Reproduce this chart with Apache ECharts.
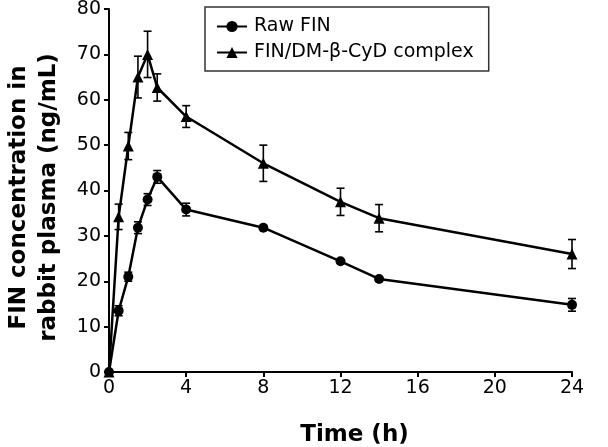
<!DOCTYPE html>
<html><head><meta charset="utf-8">
<script src="https://cdn.jsdelivr.net/npm/echarts@6/dist/echarts.min.js"></script>
<style>html,body{margin:0;padding:0;background:#fff}#c{width:608px;height:447px}</style>
</head><body><div id="c"></div>
<script>
const times = [0, 0.5, 1, 1.5, 2, 2.5, 4, 8, 12, 14, 24];
const rawMean = [0, 13.5, 21, 31.8, 38, 43, 35.8, 31.8, 24.4, 20.5, 14.8];
const rawSD = [0, 1.1, 1.0, 1.3, 1.3, 1.4, 1.4, 0.4, 0.3, 0.3, 1.4];
const cxMean = [0, 34.2, 49.8, 65, 70, 62.7, 56.3, 46, 37.5, 33.9, 26];
const cxSD = [0, 2.8, 3.0, 4.6, 5.1, 3.0, 2.4, 4.0, 3.0, 3.0, 3.2];
const xTicks = [0, 4, 8, 12, 16, 20, 24];
const yTicks = [0, 10, 20, 30, 40, 50, 60, 70, 80];
const seriesNames = ['Raw FIN', 'FIN/DM-β-CyD complex'];

const font = '"DejaVu Sans", "Liberation Sans", Arial, sans-serif';
const chart = echarts.init(document.getElementById('c'));

function errData(mean, sd) {
  return times.map((t, i) => [t, mean[i] - sd[i], mean[i] + sd[i]]).filter((d, i) => sd[i] > 0);
}
function errItem(params, api) {
  const x = api.value(0), lo = api.value(1), hi = api.value(2);
  const a = api.coord([x, lo]), b = api.coord([x, hi]);
  const w = 4;
  const st = { stroke: '#000', lineWidth: 1.6 };
  return { type: 'group', children: [
    { type: 'line', shape: { x1: a[0], y1: a[1], x2: b[0], y2: b[1] }, style: st },
    { type: 'line', shape: { x1: a[0] - w, y1: a[1], x2: a[0] + w, y2: a[1] }, style: st },
    { type: 'line', shape: { x1: b[0] - w, y1: b[1], x2: b[0] + w, y2: b[1] }, style: st }
  ]};
}

chart.setOption({
  animation: false,
  grid: { left: 109, right: 36, top: 9, bottom: 75, containLabel: false, outerBoundsMode: 'none' },
  legend: {
    left: 205, top: 7,
    orient: 'vertical',
    data: seriesNames,
    itemWidth: 30, itemHeight: 14, itemGap: 7,
    padding: [10, 15, 9, 11],
    borderColor: '#333', borderWidth: 1.5,
    textStyle: { fontFamily: font, fontSize: 19, color: '#000', padding: [0, 0, 0, 2] }
  },
  xAxis: {
    type: 'value', min: 0, max: 24, interval: 4,
    name: 'Time (h)', nameLocation: 'middle', nameGap: 52,
    nameTextStyle: { fontFamily: font, fontSize: 23, fontWeight: 'bold', color: '#000', padding: [0, 0, 0, 28] },
    axisLine: { lineStyle: { color: '#000', width: 2 } },
    axisTick: { inside: false, length: 5, lineStyle: { color: '#000', width: 2 } },
    axisLabel: { fontFamily: font, fontSize: 19, color: '#000', margin: 7,
      formatter: v => xTicks.includes(v) ? String(v) : '' },
    splitLine: { show: false }
  },
  yAxis: {
    type: 'value', min: 0, max: 80, interval: 10,
    name: 'FIN concentration in\nrabbit plasma (ng/mL)', nameLocation: 'middle', nameGap: 45,
    nameTextStyle: { fontFamily: font, fontSize: 23, fontWeight: 'bold', color: '#000', lineHeight: 30, padding: [0, 14, 0, 0] },
    axisLine: { lineStyle: { color: '#000', width: 2 } },
    axisTick: { inside: false, length: 5, lineStyle: { color: '#000', width: 2 } },
    axisLabel: { fontFamily: font, fontSize: 19, color: '#000', margin: 8,
      formatter: v => yTicks.includes(v) ? String(v) : '' },
    splitLine: { show: false }
  },
  series: [
    { name: seriesNames[0], type: 'line', data: times.map((t, i) => [t, rawMean[i]]),
      symbol: 'circle', symbolSize: 10, showAllSymbol: true,
      lineStyle: { color: '#000', width: 2.5 }, itemStyle: { color: '#000' }, z: 3 },
    { name: seriesNames[1], type: 'line', data: times.map((t, i) => [t, cxMean[i]]),
      symbol: 'triangle', symbolSize: 11, showAllSymbol: true,
      lineStyle: { color: '#000', width: 2.5 }, itemStyle: { color: '#000' }, z: 3 },
    { type: 'custom', renderItem: errItem, data: errData(rawMean, rawSD), z: 4, silent: true },
    { type: 'custom', renderItem: errItem, data: errData(cxMean, cxSD), z: 4, silent: true }
  ]
});
</script></body></html>
